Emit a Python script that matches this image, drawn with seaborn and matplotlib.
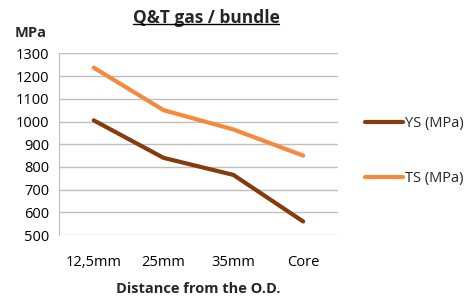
import pandas as pd
import matplotlib.pyplot as plt
import seaborn as sns

# values
distances = ["12,5mm", "25mm", "35mm", "Core"]
ys_mpa = [1005, 840, 765, 560]
ts_mpa = [1237, 1050, 965, 850]

df = pd.DataFrame({
    "distance": distances * 2,
    "value": ys_mpa + ts_mpa,
    "series": ["YS (MPa)"] * len(distances) + ["TS (MPa)"] * len(distances),
})

sns.set_style("white")
plt.rcParams["font.family"] = ["Open Sans", "DejaVu Sans"]

fig = plt.figure(figsize=(4.67, 2.98), dpi=100)
ax = fig.add_axes([0.126, 0.211, 0.598, 0.61])

palette = {"YS (MPa)": "#843C0C", "TS (MPa)": "#F58A3C"}
sns.lineplot(data=df, x="distance", y="value", hue="series", palette=palette,
             linewidth=3, sort=False, ax=ax)

ax.set_xlim(-0.5, 3.5)
ax.set_ylim(500, 1300)
ax.set_yticks(range(500, 1301, 100))
ax.yaxis.grid(True, color="#BFBFBF", linewidth=1)
ax.set_axisbelow(True)
for s in ["top", "right", "bottom"]:
    ax.spines[s].set_visible(False)
ax.spines["left"].set_color("#BFBFBF")
ax.tick_params(axis="x", length=0, labelsize=10.5, colors="black", pad=14)
ax.tick_params(axis="y", length=5, width=1, color="#BFBFBF", direction="out",
               labelsize=10.5, labelcolor="black", pad=2)

ax.set_xlabel("Distance from the O.D.", fontsize=10.5, fontweight="bold", labelpad=9)
ax.set_ylabel("")
ax.set_title("Q&T gas / bundle", fontsize=12.5, fontweight="bold", pad=22, x=0.527)
fig.text(0.032, 0.89, "MPa", fontsize=10.5, fontweight="bold", va="center")

# underline for the title
fig.canvas.draw()
bb = ax.title.get_window_extent().transformed(fig.transFigure.inverted())
fig.add_artist(plt.Line2D([bb.x0, bb.x1], [bb.y0 + 0.008, bb.y0 + 0.008],
                          color="black", linewidth=1, transform=fig.transFigure))

ax.legend(loc="upper left", bbox_to_anchor=(1.097, 0.655), frameon=False,
          fontsize=10.5, handlelength=2.6, handletextpad=0.1,
          labelspacing=2.75, borderaxespad=0, borderpad=0)

fig.savefig("out.png", dpi=100)
